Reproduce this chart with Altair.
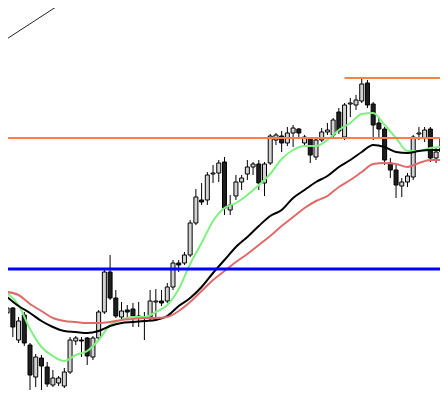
import altair as alt
import pandas as pd

# Candles (price units)
opens  = [107,112,80,105,75,43,62,53,35,37,34,48,79,80,82,63,82,108,148,122,
          103,110,111,103,102,103,118,119,119,133,157,157,165,197,220,220,246,247,258,210,
          224,238,246,253,256,237,257,280,284,277,287,291,277,282,263,280,288,285,308,283,
          316,315,319,337,316,297,291,257,250,234,238,243,286,282,291,262,268]
closes = [112,93,99,77,45,63,54,36,42,42,48,80,82,79,64,82,108,148,122,104,
          109,108,104,104,103,119,119,117,133,157,155,165,197,223,218,245,247,257,212,215,
          238,242,253,256,237,256,284,285,277,287,292,287,283,265,280,288,290,300,289,315,
          317,320,336,315,295,291,260,250,235,238,244,283,287,290,262,268,282]
highs  = [120,113,103,108,77,66,65,58,50,44,52,83,84,83,83,84,110,150,165,130,
          118,115,117,118,108,130,131,130,137,160,160,168,200,231,237,248,255,260,263,225,
          245,245,260,258,260,258,286,287,289,293,295,292,285,283,282,292,297,302,312,317,
          322,325,342,340,318,302,293,262,255,242,247,285,293,293,293,272,284]
lows   = [102,83,77,74,30,33,30,33,33,34,32,46,75,63,55,60,80,106,120,102,
          100,100,93,93,80,100,103,114,117,130,148,155,163,195,215,215,237,238,205,205,
          220,230,240,245,230,224,255,275,268,274,273,283,275,257,260,278,285,283,286,280,
          303,310,317,312,280,283,255,242,222,223,233,240,280,278,258,257,265]

# Moving averages read at every other candle
ma_bars = list(range(0, 77, 2))
ma_fast = [127,115,91,73,64,59,65,69,80,95,100,103,103,108,115,131,156,177,199,212,
           217,225,235,246,261,270,274,274,280,290,297,306,307,295,282,269,269,272,273]
ma_mid  = [123,114,107,99,93,89,88,87,89,94,97,98,99,100,104,114,122,133,147,160,
           173,183,194,204,210,222,230,238,244,253,260,268,275,273,268,267,269,270,270]
ma_slow = [128,125,116,109,102,99,98,97,97,98,100,101,102,102,103,109,118,129,140,149,
           158,166,175,184,194,203,212,219,224,233,240,248,256,257,256,253,257,260,260]

# Horizontal levels
support_level = 151
mid_level = 282
top_level = 342
top_start_bar = 59
top_end_bar = 80

# Trend line points
trend_bars = [0, 11]
trend_vals = [381.3, 422.2]

n = len(opens)
candles = pd.DataFrame({
    "bar": list(range(n)),
    "open": opens, "close": closes, "high": highs, "low": lows,
})
candles["dir"] = ["up" if c >= o else "down" for o, c in zip(opens, closes)]

ma = pd.concat([
    pd.DataFrame({"bar": ma_bars, "value": ma_fast, "series": "fast"}),
    pd.DataFrame({"bar": ma_bars, "value": ma_mid, "series": "mid"}),
    pd.DataFrame({"bar": ma_bars, "value": ma_slow, "series": "slow"}),
])

xs = alt.Scale(domain=[1.025, 74.81], nice=False, zero=False)
ys = alt.Scale(domain=[8, 412], nice=False, zero=False)

base = alt.Chart(candles)
wicks = base.mark_rule(color="black", strokeWidth=1, clip=True).encode(
    x=alt.X("bar:Q", scale=xs, axis=None),
    y=alt.Y("low:Q", scale=ys, axis=None),
    y2="high:Q",
)
bodies = base.mark_bar(size=4, stroke="black", strokeWidth=1, clip=True).encode(
    x=alt.X("bar:Q", scale=xs, axis=None),
    y=alt.Y("open:Q", scale=ys, axis=None),
    y2="close:Q",
    fill=alt.Fill("dir:N", scale=alt.Scale(domain=["up", "down"], range=["#d3d3d3", "#1e1e1e"]), legend=None),
)

lines = alt.Chart(ma).mark_line(strokeWidth=2, clip=True, interpolate="monotone").encode(
    x=alt.X("bar:Q", scale=xs, axis=None),
    y=alt.Y("value:Q", scale=ys, axis=None),
    color=alt.Color("series:N", scale=alt.Scale(domain=["fast", "mid", "slow"],
                                                range=["#80f080", "#000000", "#e06a6a"]), legend=None),
    detail="series:N",
)

blue = alt.Chart(pd.DataFrame({"v": [support_level]})).mark_rule(color="#0000ff", strokeWidth=3).encode(
    y=alt.Y("v:Q", scale=ys, axis=None))
orange = alt.Chart(pd.DataFrame({"v": [mid_level]})).mark_rule(color="#ff8040", strokeWidth=2).encode(
    y=alt.Y("v:Q", scale=ys, axis=None))
orange_top = alt.Chart(pd.DataFrame({"b": [top_start_bar], "b2": [top_end_bar], "v": [top_level]})).mark_rule(
    color="#ff8040", strokeWidth=2, clip=True).encode(
    x=alt.X("b:Q", scale=xs, axis=None), x2="b2:Q",
    y=alt.Y("v:Q", scale=ys, axis=None))
trend = alt.Chart(pd.DataFrame({"bar": trend_bars, "v": trend_vals})).mark_line(
    color="#222222", strokeWidth=1, clip=True).encode(
    x=alt.X("bar:Q", scale=xs, axis=None),
    y=alt.Y("v:Q", scale=ys, axis=None))

chart = alt.layer(wicks, bodies, lines, orange, orange_top, blue, trend).properties(
    width=432, height=404, padding=0,
    autosize=alt.AutoSizeParams(type="none"),
).configure_view(stroke=None)

chart.save("out.html", embed_options={"renderer": "svg", "actions": False})
